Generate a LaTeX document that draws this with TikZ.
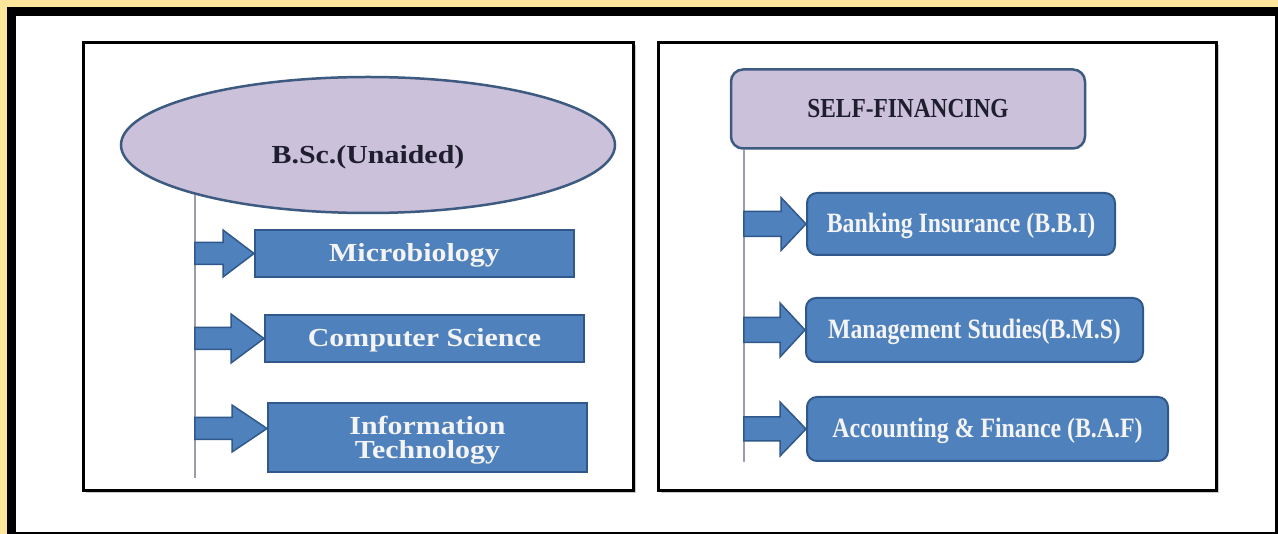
\documentclass[tikz,border=0pt]{standalone}
\usepackage{fontspec}
\usetikzlibrary{shapes.geometric,calc,shadows}
\newfontfamily\leftfont{Liberation Serif}[FakeStretch=1.15]
\newfontfamily\rightfont{Liberation Serif}[FakeStretch=0.85]
\definecolor{bgyellow}{HTML}{FDE69B}
\definecolor{boxblue}{HTML}{4F81BD}
\definecolor{boxedge}{HTML}{30588A}
\definecolor{lav}{HTML}{CCC1DA}
\definecolor{lavedge}{HTML}{3D5A80}
\definecolor{linegrey}{HTML}{9C9CAA}
\definecolor{txtwhite}{HTML}{F4F4F4}
\definecolor{txtdark}{HTML}{1E1E2E}
% block arrow: #1 start (x only), #2 tip, #3 head length, #4 head half width, #5 shaft half width
\newcommand\barrow[5]{\draw[arrowst] let \p1=(#1), \p2=(#2) in
  (\x2,\y2) -- (\x2-#3,\y2+#4) -- (\x2-#3,\y2+#5) -- (\x1,\y2+#5) --
  (\x1,\y2-#5) -- (\x2-#3,\y2-#5) -- (\x2-#3,\y2-#4) -- cycle;}
\begin{document}
\begin{tikzpicture}[x=1pt,y=-1pt,
  panel/.style={draw=black, line width=3pt, fill=white,
    drop shadow={shadow xshift=2.5pt, shadow yshift=-2.5pt, opacity=0.35, fill=black!60}},
  vline/.style={draw=linegrey, line width=2pt},
  arrowst/.style={fill=boxblue, draw=boxedge, line width=1.5pt, line join=miter},
  lfont/.style={font={\leftfont\bfseries\fontsize{26pt}{24pt}\selectfont}},
  rfont/.style={font={\rightfont\bfseries\fontsize{28pt}{30pt}\selectfont}},
  lbox/.style={lfont, draw=boxedge, line width=2pt, fill=boxblue, text=txtwhite,
    inner sep=0pt, minimum width=319pt, align=center},
  oneline/.style={text height=18pt, text depth=2pt},
  rbox/.style={rfont, draw=boxedge, line width=2pt, fill=boxblue, text=txtwhite,
    rounded corners=10pt, inner sep=0pt, minimum height=63pt, align=center,
    text height=19pt, text depth=1pt},
  headell/.style={ellipse, lfont, draw=lavedge, line width=2.5pt, fill=lav, text=txtdark,
    minimum width=494pt, minimum height=136pt, inner sep=0pt, text height=42pt, text depth=5pt},
  headbox/.style={draw=lavedge, line width=2.5pt, fill=lav, text=txtdark,
    rounded corners=12pt, minimum width=354pt, minimum height=79pt, inner sep=0pt,
    text height=19pt, text depth=1pt,
    font={\rightfont\bfseries\fontsize{27.5pt}{29pt}\selectfont}}
]
\useasboundingbox (0,0) rectangle (1278,534);
% frame
\fill[bgyellow] (0,0) rectangle (1278,534);
\fill[black] (7,7) rectangle (1278,534);
\fill[white] (16,16) rectangle (1275,532);
% panels
\draw[panel] (83,43) rectangle (633,491);
\draw[panel] (658,43) rectangle (1216,491);

% ---------- left panel ----------
\node[headell] (bsc) at (368,145) {B.Sc.(Unaided)};
\node[lbox, oneline, minimum height=47pt] (micro) at (414.5,253.5) {Microbiology};
\node[lbox, oneline, minimum height=47pt] (cs) at (424.5,338.5) {Computer Science};
\node[lbox, minimum height=69pt, text depth=0pt] (it) at (427.5,437.5) {Information\\Technology};
\coordinate (lbot) at (0,478);
\draw[vline] (bsc.196) -- (bsc.196 |- lbot);
\barrow{bsc.196}{micro.west}{31pt}{23.5pt}{11pt}
\barrow{bsc.196}{cs.west}{33pt}{24.5pt}{11pt}
\barrow{bsc.196}{$(it.west)+(0,-9)$}{35pt}{23.5pt}{11pt}

% ---------- right panel ----------
\node[headbox] (self) at (908,109) {SELF-FINANCING};
\node[rbox, minimum width=308pt, minimum height=62pt] (bbi) at (961,224) {Banking Insurance (B.B.I)};
\node[rbox, minimum width=337pt, minimum height=64pt] (bms) at (974.5,330) {Management Studies(B.M.S)};
\node[rbox, minimum width=361pt, minimum height=64pt] (baf) at (987.5,429) {Accounting \& Finance (B.A.F)};
\coordinate (rtop) at ($(self.south west)+(14,0)$);
\coordinate (rbot) at (0,462);
\draw[vline] (rtop) -- (rtop |- rbot);
\barrow{rtop}{bbi.west}{25pt}{26.5pt}{12.5pt}
\barrow{rtop}{bms.west}{25pt}{27pt}{12.5pt}
\barrow{rtop}{baf.west}{26pt}{27pt}{12pt}
\end{tikzpicture}
\end{document}
